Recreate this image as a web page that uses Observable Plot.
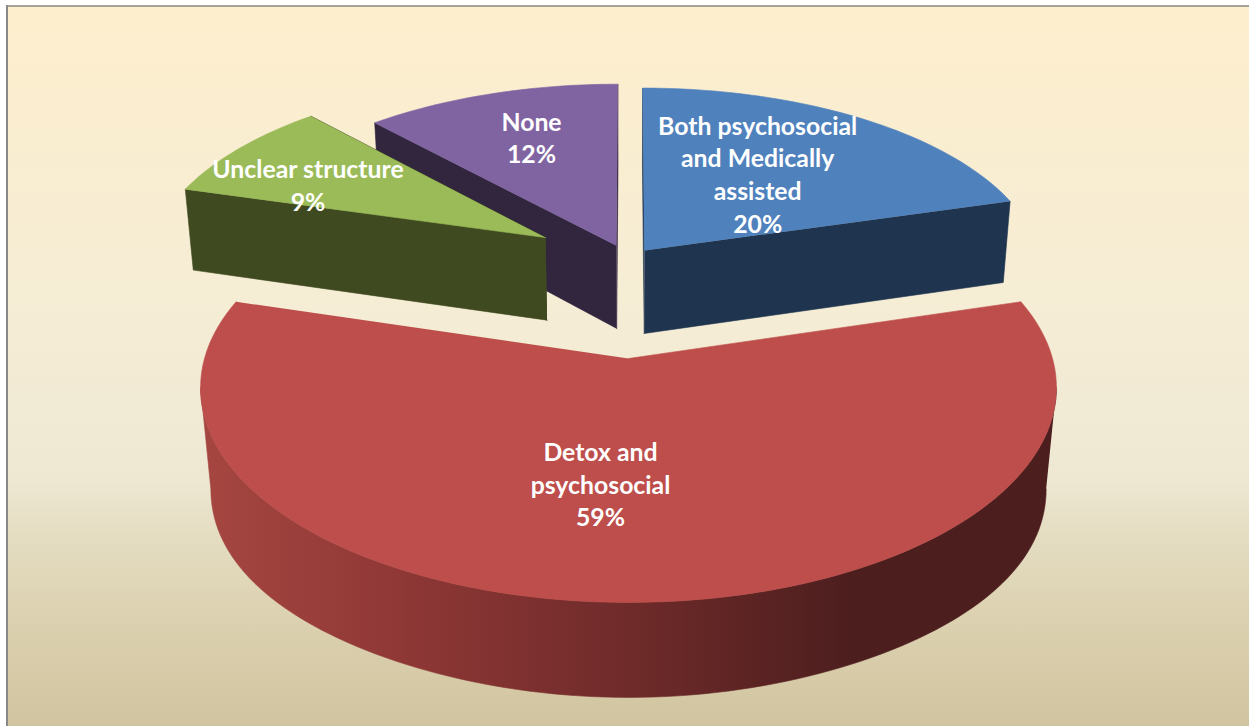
<!DOCTYPE html>
<html>
<head>
<meta charset="utf-8">
<style>html,body{margin:0;padding:0;background:#fff;overflow:hidden}</style>
<script src="https://cdn.jsdelivr.net/npm/d3@7"></script>
<script src="https://cdn.jsdelivr.net/npm/@observablehq/plot@0.6"></script>
</head>
<body>
<script>
// Data: clockwise from 12 o'clock
const categories = ["Both psychosocial\nand Medically\nassisted", "Detox and\npsychosocial", "Unclear structure", "None"];
const percentLabels = ["20%", "59%", "9%", "12%"];
const shares = [20.5, 59, 8.72, 11.78];

// Styles
const topColors = ["#4f81bd", "#bd4e4b", "#9bbb59", "#8064a2"];
const sideColors = ["#1f344f", "url(#redSide)", "#3f4a20", "#32263f"];
const explodeX = [0.0405, 0, -0.212, -0.0305];
const explodeY = [0.55, 0, 0.621, 0.577];
const labelDx = [-20, -28, -49, -6];
const labelDy = [5.5, -13, 1.5, -14];
const drawOrder = [0, 3, 2, 1];
const startAngle = 90;

// Perspective camera for the tilted disc
const cam = {cx: 628, cy: 358, ax: 424, by: 211, p: 0.135};
function project(X, Y) {
  const w = 1 + cam.p * Y;
  return {x: cam.cx + cam.ax * X / w, y: cam.cy - cam.by * Y / w};
}
function drop(pt, shrink = 0.982, bulge = 0) {
  const dx = pt.x - cam.cx;
  return {
    x: cam.cx + dx * shrink,
    y: pt.y + 83 + (pt.y - 250) / 352 * 12 + bulge * Math.pow(dx / 428, 4)
  };
}
const rimDrop = pt => drop(pt, 0.976, 14);
const rad = d => d * Math.PI / 180;

let cum = 0;
const slices = shares.map((v, i) => {
  const t0 = startAngle - cum * 3.6;
  cum += v;
  const t1 = startAngle - cum * 3.6;
  const ox = explodeX[i], oy = explodeY[i];
  const steps = Math.max(8, Math.ceil(Math.abs(t1 - t0) / 1.5));
  const arc = d3.range(steps + 1).map(k => {
    const t = rad(t0 + (t1 - t0) * k / steps);
    return project(ox + Math.cos(t), oy + Math.sin(t));
  });
  const apex = project(ox, oy);
  const mid = rad((t0 + t1) / 2);
  const anchor = project(ox + 0.6 * Math.cos(mid), oy + 0.6 * Math.sin(mid));
  return {i, apex, arc, anchor};
});

function poly(pts, fill) {
  return Plot.line(pts, {x: "x", y: "y", fill, stroke: fill, strokeWidth: 0.6, curve: "linear"});
}

function sliceMarks(s) {
  const side = sideColors[s.i];
  const n = s.arc.length - 1;
  const first = s.arc[0], last = s.arc[n];
  const iL = d3.minIndex(s.arc, d => d.x), iR = d3.maxIndex(s.arc, d => d.x);
  const marks = [];
  if (iL > 0 && iL < n && iR > 0 && iR < n) {
    // the rim shows only where the arc wraps round the front of the disc
    const rim = s.arc.slice(Math.min(iL, iR), Math.max(iL, iR) + 1);
    marks.push(poly([...rim, ...rim.map(rimDrop).reverse()], side));
  } else {
    marks.push(poly([s.apex, first, drop(first), drop(s.apex)], side));
    marks.push(poly([s.apex, last, drop(last), drop(s.apex)], side));
  }
  marks.push(poly([s.apex, ...s.arc], topColors[s.i]));
  return marks;
}

const defs = () => d3.create("svg:defs").html(`
  <linearGradient id="bgGrad" x1="0" y1="0" x2="0" y2="1">
    <stop offset="0" stop-color="#fdeecd"/>
    <stop offset="0.4" stop-color="#f6edd5"/>
    <stop offset="0.66" stop-color="#eee8d3"/>
    <stop offset="0.72" stop-color="#e6dfc5"/>
    <stop offset="0.85" stop-color="#dcd1b0"/>
    <stop offset="1" stop-color="#d1c4a0"/>
  </linearGradient>
  <linearGradient id="redSide" gradientUnits="userSpaceOnUse" x1="200" y1="0" x2="1056" y2="0">
    <stop offset="0" stop-color="#a64641"/>
    <stop offset="0.23" stop-color="#8f3836"/>
    <stop offset="0.5" stop-color="#6f2b2a"/>
    <stop offset="0.76" stop-color="#4d1e1e"/>
    <stop offset="1" stop-color="#4c1e1e"/>
  </linearGradient>`).node();

const chart = Plot.plot({
  width: 1253,
  height: 726,
  margin: 0,
  style: {background: "#fff", fontFamily: "Lato, sans-serif"},
  x: {domain: [0, 1253], range: [0, 1253], axis: null},
  y: {domain: [0, 726], range: [0, 726], axis: null},
  marks: [
    defs,
    Plot.rect([{}], {x1: 7, x2: 1249, y1: 5, y2: 726, fill: "url(#bgGrad)"}),
    Plot.ruleX([6.5], {y1: 5, y2: 726, stroke: "#888", strokeWidth: 2}),
    Plot.ruleY([5.5], {x1: 6, x2: 1249, stroke: "#888", strokeWidth: 1.5}),
    ...drawOrder.flatMap(i => sliceMarks(slices[i])),
    ...drawOrder.map(i => Plot.text([slices[i].anchor], {
      x: "x",
      y: "y",
      dx: labelDx[i],
      dy: labelDy[i],
      text: () => categories[i] + "\n" + percentLabels[i],
      fill: "#fff",
      fontSize: 24.8,
      fontWeight: 700,
      lineHeight: 1.32,
      textAnchor: "middle",
      lineAnchor: "middle"
    }))
  ]
});
document.body.appendChild(chart);
</script>
</body>
</html>
